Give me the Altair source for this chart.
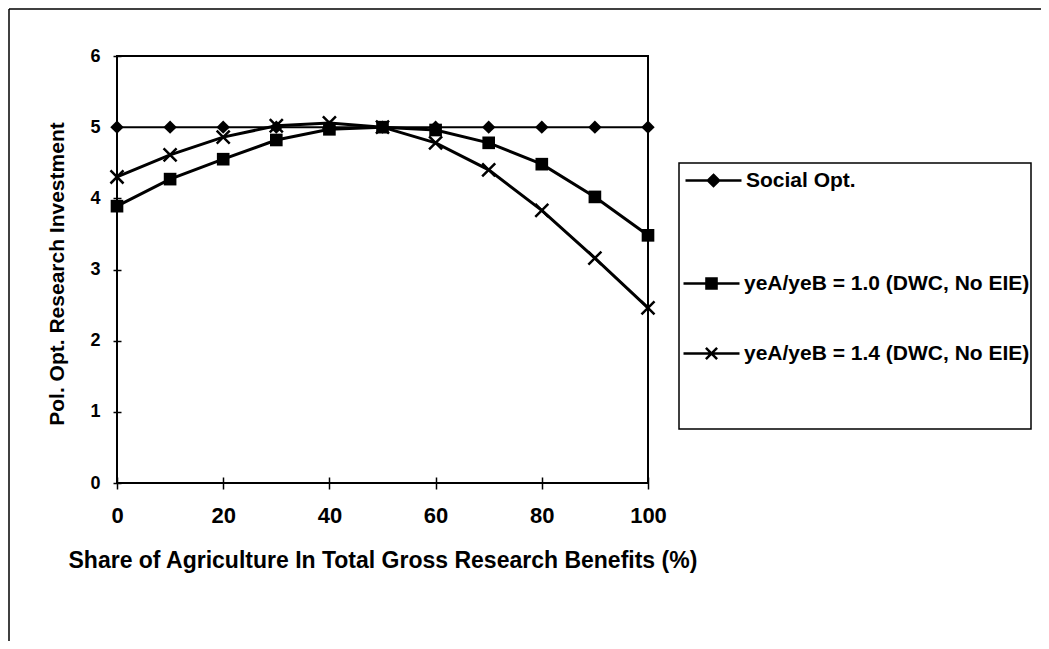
import altair as alt
import pandas as pd

# ---- data ----
x_share = [0, 10, 20, 30, 40, 50, 60, 70, 80, 90, 100]
social_opt = [5.0, 5.0, 5.0, 5.0, 5.0, 5.0, 5.0, 5.0, 5.0, 5.0, 5.0]
ratio_10 = [3.89, 4.27, 4.55, 4.82, 4.97, 5.00, 4.96, 4.78, 4.48, 4.02, 3.48]
ratio_14 = [4.30, 4.61, 4.86, 5.02, 5.06, 5.00, 4.78, 4.40, 3.83, 3.16, 2.46]
series_names = ["Social Opt.", "yeA/yeB = 1.0 (DWC, No EIE)", "yeA/yeB = 1.4 (DWC, No EIE)"]
x_ticks = [0, 20, 40, 60, 80, 100]
y_ticks = [0, 1, 2, 3, 4, 5, 6]
x_title = "Share of Agriculture In Total Gross Research Benefits (%)"
y_title = "Pol. Opt. Research Investment"

rows = []
for name, vals in zip(series_names, [social_opt, ratio_10, ratio_14]):
    for xv, yv in zip(x_share, vals):
        rows.append({"share": xv, "value": yv, "series": name})
df = pd.DataFrame(rows)

W, H = 531, 427
PAD = {"left": 109, "top": 48, "right": 393, "bottom": 158}
FONT = "Liberation Sans"

x_enc = alt.X(
    "share:Q",
    scale=alt.Scale(domain=[0, 100], nice=False),
    axis=alt.Axis(
        values=x_ticks, title=x_title, offset=-6, tickSize=12, labelPadding=16,
        labelFontSize=22, titleFontSize=23, labelFlush=False,
        titleX=-49, titleY=83, titleAlign="left", titleBaseline="middle",
        titleAnchor="start",
    ),
)
y_enc = alt.Y(
    "value:Q",
    scale=alt.Scale(domain=[0, 6], nice=False),
    axis=alt.Axis(
        values=y_ticks, title=y_title, offset=-4, tickSize=8, labelPadding=13,
        labelFontSize=18, titleFontSize=21, labelFlush=False,
        titleX=-64, titleY=H / 2 + 4, titleAlign="center", titleBaseline="middle",
        titleAngle=270,
    ),
)

base = alt.Chart(df)

line_social = base.transform_filter(alt.datum.series == series_names[0]).mark_line(
    color="black", strokeWidth=2
).encode(x=x_enc, y=y_enc)

line_others = base.transform_filter(alt.datum.series != series_names[0]).mark_line(
    color="black", strokeWidth=3
).encode(x=x_enc, y=y_enc, detail="series:N")

pts_diamond = base.transform_filter(alt.datum.series == series_names[0]).mark_point(
    shape="diamond", size=180, filled=True, color="black", opacity=1
).encode(x=x_enc, y=y_enc)

pts_square = base.transform_filter(alt.datum.series == series_names[1]).mark_point(
    shape="square", size=160, filled=True, color="black", opacity=1
).encode(x=x_enc, y=y_enc)

pts_cross = base.transform_filter(alt.datum.series == series_names[2]).mark_point(
    shape="M-1,-1L1,1M-1,1L1,-1", size=170, filled=False, color="black",
    strokeWidth=2.5, opacity=1
).encode(x=x_enc, y=y_enc)

# legend symbols: line with marker in the middle
path_diamond = "M-1,0L1,0M0,-0.2L0.2,0L0,0.2L-0.2,0Z"
path_square = "M-1,0L1,0M-0.18,-0.18L0.18,-0.18L0.18,0.18L-0.18,0.18Z"
path_cross = "M-1,0L1,0M-0.2,-0.2L0.2,0.2M-0.2,0.2L0.2,-0.2"

LEG_COMMON = dict(
    title=None, orient="none", padding=0,
    symbolOpacity=1, symbolFillColor="black", symbolStrokeColor="black",
    symbolStrokeWidth=2.5, symbolSize=3136,
    labelFont=FONT, labelFontSize=21, labelFontWeight="bold",
    labelColor="black", labelOffset=3, labelLimit=400,
)


def legend_carrier(name, channel, path, lx, ly):
    enc_cls = {"color": alt.Color, "fill": alt.Fill, "stroke": alt.Stroke}[channel]
    ch = enc_cls(
        "series:N",
        scale=alt.Scale(domain=[name], range=["black"]),
        legend=alt.Legend(legendX=lx, legendY=ly, symbolType=path, **LEG_COMMON),
    )
    return base.transform_filter(alt.datum.series == name).mark_point(
        filled=True, opacity=0, size=3136, strokeWidth=2.5
    ).encode(x=x_enc, y=y_enc, **{channel: ch})


leg1 = legend_carrier(series_names[0], "color", path_diamond, 567, 95)
leg2 = legend_carrier(series_names[1], "fill", path_square, 565, 198)
leg3 = legend_carrier(series_names[2], "stroke", path_cross, 565, 268)

deco = alt.Chart(pd.DataFrame({"a": [0]}))
frame_left = deco.mark_rule(color="black", strokeWidth=1.5).encode(
    x=alt.value(-108), y=alt.value(-47), y2=alt.value(H + PAD["bottom"])
)
frame_top = deco.mark_rule(color="black", strokeWidth=1.5).encode(
    x=alt.value(-108), x2=alt.value(W + PAD["right"]), y=alt.value(-47)
)
legend_box = deco.mark_rect(fillOpacity=0, stroke="black", strokeWidth=1.5).encode(
    x=alt.value(562), x2=alt.value(914), y=alt.value(107), y2=alt.value(373)
)

chart = alt.layer(
    frame_left, frame_top, legend_box, line_social, line_others,
    pts_diamond, pts_square, pts_cross, leg1, leg2, leg3
).properties(
    width=W, height=H,
    autosize=alt.AutoSizeParams(type="none"),
    padding=PAD,
    background="white",
).configure_view(
    stroke="black", strokeWidth=2
).configure_axis(
    domain=False, grid=False, tickColor="black", tickWidth=1.5,
    labelFont=FONT, labelFontWeight="bold", labelColor="black",
    titleFont=FONT, titleFontWeight="bold", titleColor="black",
)

chart.save("out.html", embed_options={"renderer": "svg", "actions": False})
